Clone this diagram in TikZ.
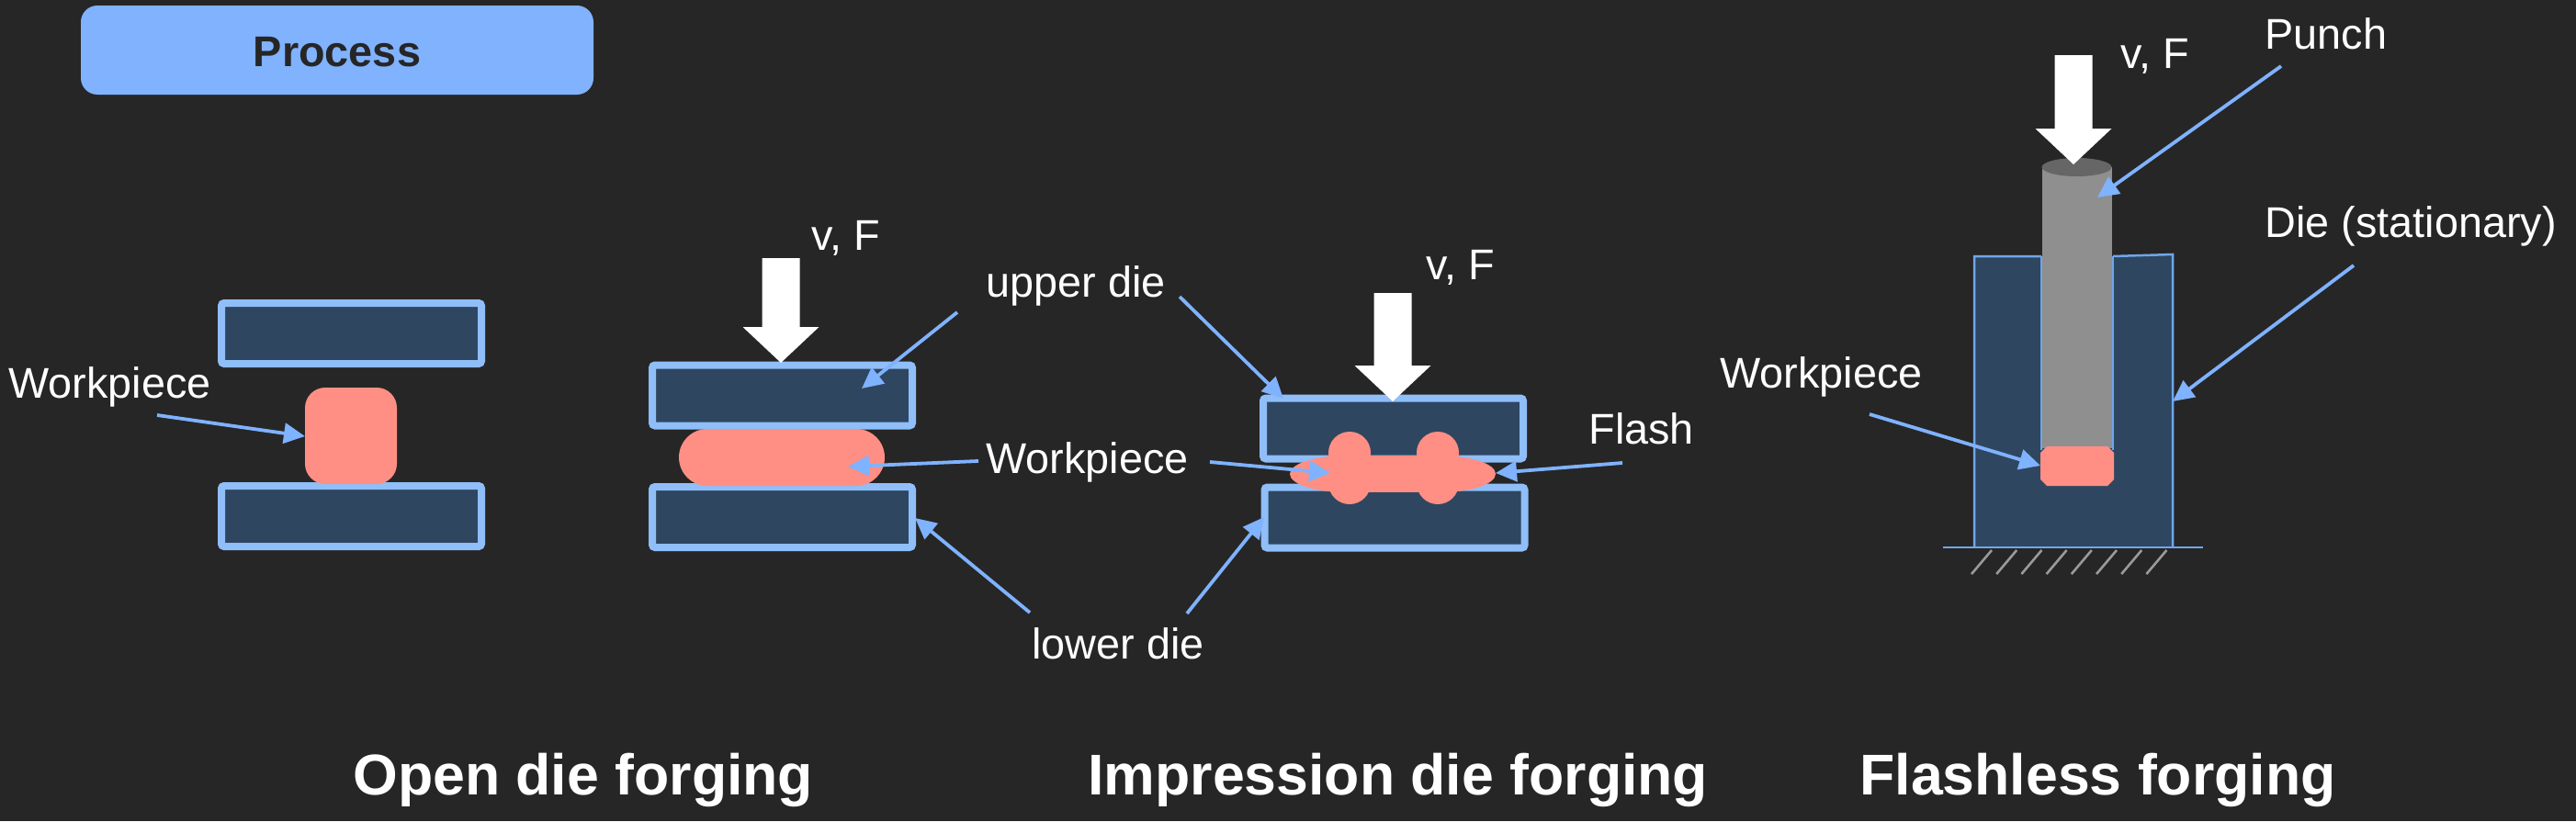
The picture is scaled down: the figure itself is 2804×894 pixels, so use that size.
\documentclass[tikz,border=0pt]{standalone}
\usepackage{fontspec}
\setmainfont{Liberation Sans}
\usetikzlibrary{arrows.meta}
\definecolor{bgc}{HTML}{262626}
\definecolor{hdr}{HTML}{80B2FD}
\definecolor{dieb}{HTML}{8FBEF8}
\definecolor{dief}{HTML}{2F4660}
\definecolor{wp}{HTML}{FF8F84}
\definecolor{lead}{HTML}{7FB2FF}
\definecolor{thinb}{HTML}{6FA6EA}
\definecolor{punchc}{HTML}{8F8F8F}
\definecolor{punchtop}{HTML}{666666}
\definecolor{hatchc}{HTML}{9A9A9A}
\tikzset{
  x=0.5pt,y=-0.5pt,
  diebox/.style={draw=dieb,fill=dief,line width=4pt,rounded corners=1.5pt,inner sep=0pt,minimum width=141.5pt,minimum height=33pt},
  lbl/.style={text=white,font=\fontsize{23.4pt}{28pt}\selectfont,anchor=base west,inner sep=0pt},
  ttl/.style={text=white,font=\fontsize{31.3pt}{38pt}\selectfont\bfseries,anchor=base west,inner sep=0pt},
  leadarrow/.style={draw=lead,line width=1.9pt,-{Triangle[length=11.5pt,width=11pt,color=lead]}},
  force/.style={fill=white,draw=none},
  piece/.style={fill=wp,draw=none},
}
\newcommand{\forcearrow}[3]{% tip x, tip y, top y
  \fill[force] (#1-20.5,#3) -- (#1+20.5,#3) -- (#1+20.5,#2-39) -- (#1+41.5,#2-39) -- (#1,#2) -- (#1-41.5,#2-39) -- (#1-20.5,#2-39) -- cycle;}
\begin{document}
\begin{tikzpicture}
\path[use as bounding box,fill=bgc] (0,0) rectangle (2804,894);
% header
\node[fill=hdr,rounded corners=9pt,minimum width=279pt,minimum height=48.5pt,inner sep=0pt,text=bgc,font=\fontsize{23.4pt}{28pt}\selectfont\bfseries] (process) at (367,54.5) {\raisebox{-9pt}[0pt][0pt]{Process}};
% open die, before
\node[diebox] (d1u) at (382.5,363) {};
\node[diebox] (d1l) at (382.5,562) {};
\node[piece,rounded corners=11pt,minimum width=50pt,minimum height=52.5pt,inner sep=0pt] (w1) at (382,474.5) {};
% open die, after
\node[diebox] (d2u) at (851.5,430.5) {};
\node[diebox] (d2l) at (851.5,563) {};
\node[piece,rounded corners=15.5pt,minimum width=112pt,minimum height=31pt,inner sep=0pt] (w2) at (851,498) {};
\forcearrow{850}{395}{281}
% impression die
\node[diebox] (d3u) at (1516.5,466.5) {};
\node[diebox] (d3l) at (1518,563.5) {};
\fill[piece] (1465,516) ellipse[x radius=30.5pt,y radius=10pt];
\fill[piece] (1567,516) ellipse[x radius=30.5pt,y radius=10pt];
\fill[piece] (1465,496) rectangle (1567,536);
\foreach \cx in {1469,1565}{
  \fill[piece] (\cx,493) circle[radius=11.5pt];
  \fill[piece] (\cx,526) circle[radius=11.5pt];
}
\forcearrow{1516}{437}{319}
% flashless: die
\fill[dief] (2149,279) -- (2222,279) -- (2222,488) -- (2300,488) -- (2300,279) -- (2365,277) -- (2365,596) -- (2149,596) -- cycle;
\fill[dief] (2222,488) rectangle (2300,596);
\draw[thinb,line width=1.25pt] (2222,279) -- (2149,279) -- (2149,596) (2365,596) -- (2365,277) -- (2300,279);
\draw[thinb,line width=1.25pt] (2222,279) -- (2222,490) (2300,279) -- (2300,490);
% punch
\fill[punchc] (2223,182) rectangle (2299,488);
\fill[punchtop] (2260.5,182) ellipse[x radius=19pt,y radius=5pt];
% workpiece
\fill[piece] (2228,486) -- (2294,486) -- (2301,493) -- (2301,522) -- (2294,529) -- (2228,529) -- (2221,522) -- (2221,493) -- cycle;
% ground
\draw[thinb,line width=1.25pt] (2115,596) -- (2398,596);
\foreach \i in {0,...,7}{
  \draw[hatchc,line width=1.3pt] (2168+27.2*\i,599) -- (2146+27.2*\i,625);
}
\forcearrow{2257}{179}{60}
% labels
\node[lbl] (lw1) at (9,433) {Workpiece};
\node[lbl] (lvf2) at (883,272) {v, F};
\node[lbl] (lup) at (1073,323) {upper die};
\node[lbl] (lw2) at (1073,515) {Workpiece};
\node[lbl] (llow) at (1123,717) {lower die};
\node[lbl] (lflash) at (1729,483) {Flash};
\node[lbl] (lvf3) at (1552,304) {v, F};
\node[lbl] (lw3) at (1872,422) {Workpiece};
\node[lbl] (lvf4) at (2308,74) {v, F};
\node[lbl] (lpunch) at (2465,53) {Punch};
\node[lbl] (ldie) at (2465,258) {Die (stationary)};
\node[ttl] (t1) at (384,865) {Open die forging};
\node[ttl] (t2) at (1184,865) {Impression die forging};
\node[ttl] (t3) at (2024,865) {Flashless forging};
% leader ends
\coordinate (a1s) at (171,452);  \coordinate (a1e) at (332,475);
\coordinate (a2s) at (1042,340); \coordinate (a2e) at (938,423);
\coordinate (a3s) at (1065,502); \coordinate (a3e) at (923,508);
\coordinate (a4s) at (1121,667); \coordinate (a4e) at (996,564);
\coordinate (a5s) at (1284,323); \coordinate (a5e) at (1397,434);
\coordinate (a6s) at (1317,503); \coordinate (a6e) at (1448,515);
\coordinate (a7s) at (1766,504); \coordinate (a7e) at (1628,515);
\coordinate (a8s) at (1292,668); \coordinate (a8e) at (1376,563);
\coordinate (a9s) at (2483,72);  \coordinate (a9e) at (2283,215);
\coordinate (a10s) at (2562,289);\coordinate (a10e) at (2365,437);
\coordinate (a11s) at (2035,451);\coordinate (a11e) at (2221,507);
\foreach \n in {1,...,11}{ \draw[leadarrow] (a\n s) -- (a\n e); }
\end{tikzpicture}
\end{document}
